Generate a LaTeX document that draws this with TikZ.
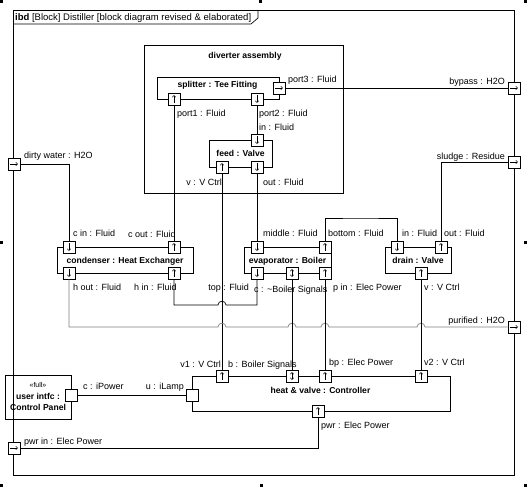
\documentclass[tikz,border=0pt]{standalone}
\usepackage{fontspec}
\setmainfont{Liberation Sans}
\usetikzlibrary{arrows.meta}

\tikzset{
  wire/.style={line width=0.7pt},
  blk/.style={draw, line width=0.7pt, inner sep=0pt, font=\fontsize{8.6}{10}\selectfont\bfseries, text height=6.3pt, text depth=0pt},
  ttl/.style={inner sep=0pt, font=\fontsize{8.6}{10}\selectfont\bfseries, text height=6.3pt, text depth=0pt},
  lab/.style={inner sep=0pt, anchor=west, text height=6.5pt, text depth=0pt},
  labr/.style={inner sep=0pt, anchor=east, text height=6.5pt, text depth=0pt},
  port/.style={draw, line width=0.7pt, fill=white, minimum size=12pt, inner sep=0pt},
  parrow/.style={line width=0.5pt, -{Straight Barb[length=1.8pt,width=3.4pt]}},
  pboth/.style={port, path picture={\draw[line width=0.5pt, {Straight Barb[length=1.8pt,width=3.4pt]}-{Straight Barb[length=1.8pt,width=3.4pt]}]
      ([yshift=-4pt]path picture bounding box.center) -- ([yshift=4pt]path picture bounding box.center);}},
  pup/.style={port, path picture={\draw[parrow] ([yshift=-4pt]path picture bounding box.center) -- ([yshift=4pt]path picture bounding box.center);}},
  pdown/.style={port, path picture={\draw[parrow] ([yshift=4pt]path picture bounding box.center) -- ([yshift=-4pt]path picture bounding box.center);}},
  pright/.style={port, path picture={\draw[parrow] ([xshift=-4pt]path picture bounding box.center) -- ([xshift=4pt]path picture bounding box.center);}},
}

\begin{document}
\begin{tikzpicture}[x=1pt, y=-1pt, font=\fontsize{9}{10.5}\selectfont]
\useasboundingbox (0,0) rectangle (527,487);

% selection handles
\fill (0,0) rectangle (3,3);
\fill (259,0) rectangle (262,3);
\fill (524,0) rectangle (527,3);
\fill (0,241) rectangle (3,244);
\fill (524,241) rectangle (527,244);
\fill (0,484) rectangle (3,487);
\fill (260,484) rectangle (263,487);
\fill (524,484) rectangle (527,487);

% frame
\draw[wire] (13,10) rectangle (514,475);
\draw[wire] (13,24) -- (251,24) -- (258,18) -- (258,10);
\node[lab, font=\fontsize{9.5}{11}\selectfont] (hdr) at (15,17) {\textbf{ibd} [Block] Distiller [block diagram revised \& elaborated]};

% blocks
\node[blk, minimum width=199pt, minimum height=148pt] (div) at (243.5,119) {};
\node[ttl] (divt) at (245,55) {diverter assembly};
\node[blk, minimum width=122pt, minimum height=22pt] (split) at (218,88) {};
\node[ttl] (splitt) at (217.5,84) {splitter : Tee Fitting};
\node[blk, minimum width=63pt, minimum height=27pt] (feed) at (240.5,153.5) {feed : Valve};
\node[blk, minimum width=136pt, minimum height=26pt] (cond) at (125,260) {condenser : Heat Exchanger};
\node[blk, minimum width=87pt, minimum height=26pt] (evap) at (287.5,260) {evaporator : Boiler};
\node[blk, minimum width=66pt, minimum height=26pt] (drain) at (418,260) {drain : Valve};
\node[blk, minimum width=258pt, minimum height=35pt] (ctrl) at (321,393.5) {};
\node[ttl] (ctrlt) at (320.5,390) {heat \& valve : Controller};
\node[draw, line width=0.7pt, inner sep=0pt, minimum width=66pt, minimum height=44pt, align=center,
  font=\fontsize{8.6}{11.5}\selectfont] (ui) at (38,397)
  {{\fontsize{7}{8}\selectfont «full»}\\ \textbf{user intfc :}\\ \textbf{Control Panel}};

% ports
\node[pup] (sp1) at (174,99) {};
\node[pdown] (sp2) at (257,99) {};
\node[pright] (sp3) at (279,88) {};
\node[pdown] (fin) at (257,140) {};
\node[pup] (fv) at (222,167) {};
\node[pdown] (fout) at (257,167) {};
\node[pdown] (cin) at (69,247) {};
\node[pup] (cout) at (174,247) {};
\node[pdown] (hout) at (69,273) {};
\node[pup] (hin) at (174,273) {};
\node[pdown] (emid) at (257,247) {};
\node[pup] (ebot) at (325,247) {};
\node[pdown] (etop) at (257,273) {};
\node[pboth] (ec) at (292,273) {};
\node[pup] (epin) at (325,273) {};
\node[pdown] (din) at (397,247) {};
\node[pup] (dout) at (441,247) {};
\node[pup] (dv) at (421,273) {};
\node[pup] (cv1) at (222,376) {};
\node[pboth] (cb) at (292,376) {};
\node[pup] (cbp) at (325,376) {};
\node[pup] (cv2) at (421,376) {};
\node[port] (cu) at (192,395) {};
\node[pup] (cpwr) at (318,411) {};
\node[port] (uc) at (71,395) {};
\node[pright] (bypass) at (514,88) {};
\node[pright] (sludge) at (514,162) {};
\node[pright] (purified) at (514,327) {};
\node[pright] (dirty) at (14,164) {};
\node[pright] (pwrin) at (14,448) {};

% connectors
\draw[wire] (sp1) -- (cout);
\draw[wire] (sp2) -- (fin);
\draw[wire] (sp3) -- (bypass);
\draw[wire] (fv) -- (cv1);
\draw[wire] (fout) -- (emid);
\draw[wire] (dirty) -| (cin);
\draw[wire] (hin.south) |- (218,305) .. controls (218,300) and (226,300) .. (226,305) -| (etop.south);
\draw[wire, gray] (hout.south) |- (218,327) .. controls (218,322) and (226,322) .. (226,327)
  -- (288,327) .. controls (288,322) and (296,322) .. (296,327)
  -- (321,327) .. controls (321,322) and (329,322) .. (329,327)
  -- (417,327) .. controls (417,322) and (425,322) .. (425,327) -- (purified.west);
\draw[wire] (ebot.north) |- (360,218) -| (din.north);
\draw[wire] (dout) |- (sludge);
\draw[wire] (ec) -- (cb);
\draw[wire] (epin) -- (cbp);
\draw[wire] (dv) -- (cv2);
\draw[wire] (uc) -- (cu);
\draw[wire] (pwrin) -| (cpwr);

% labels
\node[lab] (l1) at (288,79) {port3 : Fluid};
\node[lab] (l2) at (177,113) {port1 : Fluid};
\node[lab] (l3) at (259,113) {port2 : Fluid};
\node[lab] (l4) at (259,127) {in : Fluid};
\node[labr] (l5) at (222,182) {v : V Ctrl};
\node[lab] (l6) at (263,182) {out : Fluid};
\node[labr] (l7) at (505,81) {bypass : H2O};
\node[labr] (l8) at (505,156) {sludge : Residue};
\node[lab] (l9) at (24,155) {dirty water : H2O};
\node[lab] (l10) at (73,233) {c in : Fluid};
\node[lab] (l11) at (128,234) {c out : Fluid};
\node[lab] (l12) at (73,287) {h out : Fluid};
\node[lab] (l13) at (134,287) {h in : Fluid};
\node[lab] (l14) at (263,233) {middle : Fluid};
\node[lab] (l15) at (328,233) {bottom : Fluid};
\node[labr] (l16) at (249,287) {top : Fluid};
\node[lab] (l17) at (254,289) {c : \textasciitilde Boiler Signals};
\node[lab] (l18) at (333,287) {p in : Elec Power};
\node[lab] (l19) at (402,233) {in : Fluid};
\node[lab] (l20) at (444,233) {out : Fluid};
\node[lab] (l21) at (424,287) {v : V Ctrl};
\node[labr] (l22) at (505,320) {purified : H2O};
\node[labr] (l23) at (221,364) {v1 : V Ctrl};
\node[lab] (l24) at (228,364) {b : Boiler Signals};
\node[lab] (l25) at (329,362) {bp : Elec Power};
\node[lab] (l26) at (424,362) {v2 : V Ctrl};
\node[lab] (l27) at (321,425) {pwr : Elec Power};
\node[labr] (l28) at (184,386) {u : iLamp};
\node[lab] (l29) at (83,386) {c : iPower};
\node[lab] (l30) at (24,441) {pwr in : Elec Power};
\end{tikzpicture}
\end{document}
